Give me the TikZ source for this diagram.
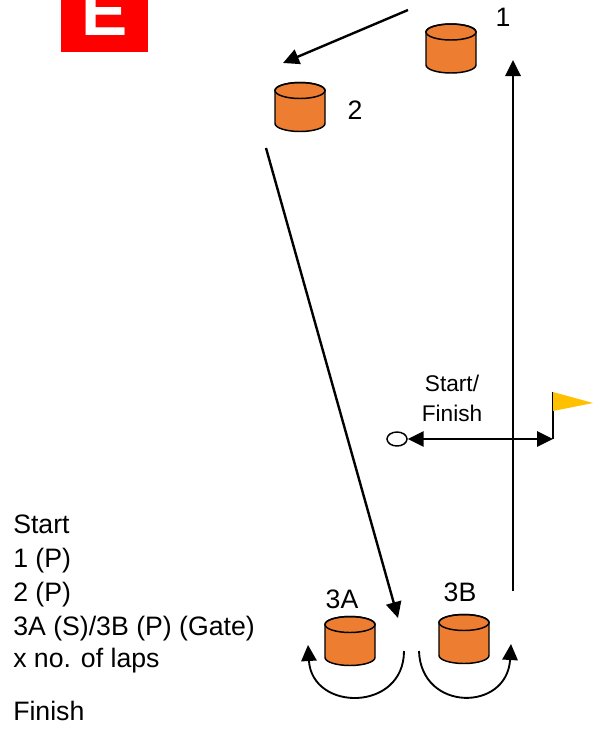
\documentclass[tikz,border=0pt]{standalone}
\usepackage{fontspec}
\setmainfont{Liberation Sans}
\usetikzlibrary{arrows.meta,shapes.geometric}
\definecolor{buoyorange}{HTML}{ED7D31}
\definecolor{flagyellow}{HTML}{FFC000}
\definecolor{signred}{HTML}{FF0000}
\tikzset{
  buoy/.pic={
    \draw[fill=buoyorange, line width=1.1pt] (-25,-16.5) -- (-25,16.5)
      arc[start angle=180, end angle=0, x radius=25, y radius=8] -- (25,-16.5)
      arc[start angle=0, end angle=-180, x radius=25, y radius=8] -- cycle;
    \draw[line width=1.1pt] (0,-16.5) ellipse[x radius=25, y radius=8];
  },
  course/.style={line width=1.8pt, -{Triangle[length=12pt,width=11.5pt]}},
  turn/.style={line width=1.4pt, -{Triangle[length=12pt,width=11.5pt]}},
  buoylabel/.style={font=\fontsize{20}{24}\selectfont, inner sep=0pt},
  listline/.style={font=\fontsize{20}{24}\selectfont, anchor=base west, inner sep=0pt}
}

\begin{document}
\begin{tikzpicture}[x=0.75pt, y=-0.75pt]
\useasboundingbox (0,0) rectangle (600,729);

\begin{scope}
\clip (61,0) rectangle (148,52);
\fill[signred] (61,0) rectangle (148,52);
\node[anchor=base, text=white, font=\bfseries\fontsize{52}{52}\selectfont, inner sep=0pt] (sign) at (105,35) {E};
\end{scope}

\pic (b1) at (451,48.5) {buoy};
\pic (b2) at (300,107) {buoy};
\pic (b3A) at (350,641) {buoy};
\pic (b3B) at (464,639) {buoy};
\node[buoylabel] (l1) at (503,17) {1};
\node[buoylabel] (l2) at (355,110) {2};
\node[buoylabel] (l3A) at (342,599) {3A};
\node[buoylabel] (l3B) at (460,592) {3B};

\coordinate (leg1a) at (408,10);
\coordinate (leg1b) at (283,63);
\coordinate (leg2a) at (266,148);
\coordinate (leg2b) at (398,618);
\coordinate (leg3a) at (513,591);
\coordinate (leg3b) at (513,60);
\draw[course] (leg1a) -- (leg1b);
\draw[course] (leg2a) -- (leg2b);
\draw[course] (leg3a) -- (leg3b);

\coordinate (turnAa) at (404,651);
\coordinate (turnAb) at (308,645);
\coordinate (turnBa) at (419,651);
\coordinate (turnBb) at (511,644);
\draw[turn] (turnAa) .. controls (404,712) and (312,712) .. (turnAb);
\draw[turn] (turnBa) .. controls (421,712) and (507,712) .. (turnBb);

\node[ellipse, draw, line width=1.1pt, fill=white, minimum width=15pt, minimum height=10.5pt, inner sep=0pt] (pin) at (397,439) {};
\coordinate (pole) at (553,439);
\coordinate (poletop) at (553,392);
\draw[line width=1.5pt, {Triangle[length=12pt,width=11.5pt]}-{Triangle[length=12pt,width=11.5pt]}] (pin.east) -- (pole);
\draw[line width=2.2pt] (pole) -- (poletop);
\fill[flagyellow] (poletop) -- (593,403) -- (553,411) -- cycle;
\node[font=\fontsize{17}{22.5}\selectfont, align=center, inner sep=0pt] (sf) at (452,398) {Start/\\Finish};

\node[listline] (t1) at (13,533) {Start};
\node[listline] (t2) at (13,567) {1 (P)};
\node[listline] (t3) at (13,601) {2 (P)};
\node[listline] (t4) at (13,635) {3A (S)/3B (P) (Gate)};
\node[listline] (t5) at (13,667) {x no. of laps};
\node[listline] (t6) at (13,720) {Finish};
\end{tikzpicture}
\end{document}
